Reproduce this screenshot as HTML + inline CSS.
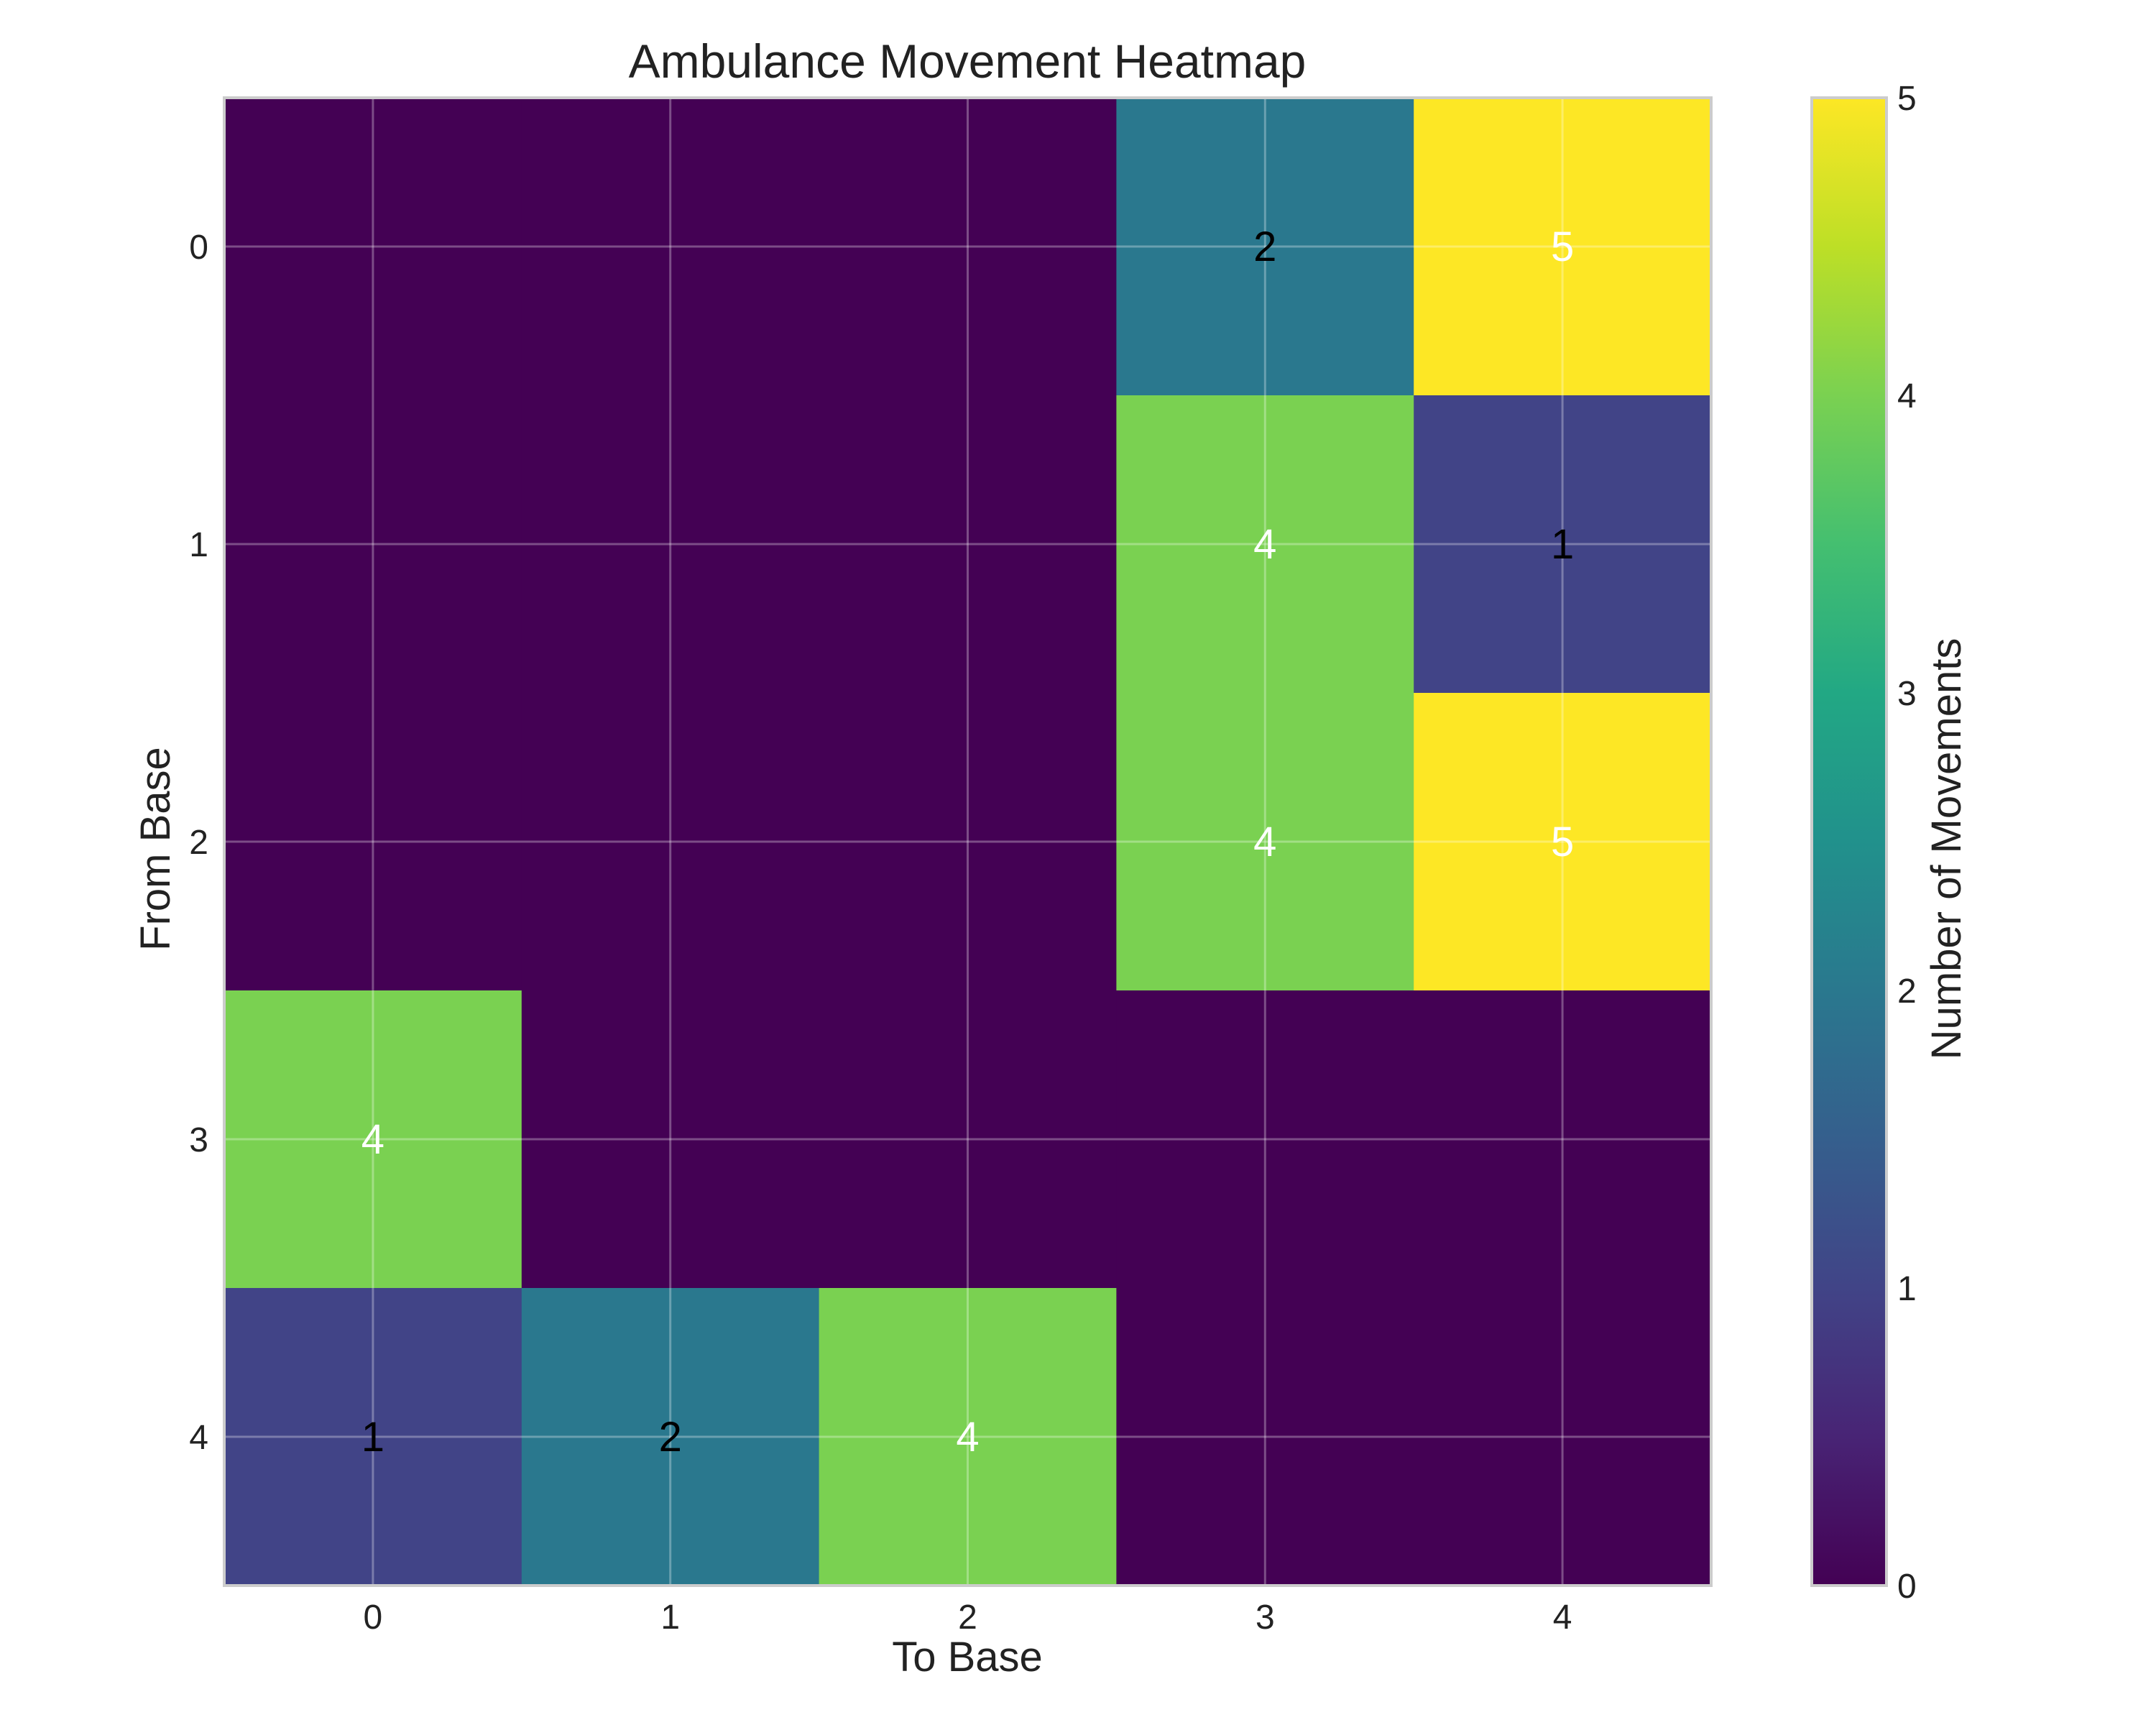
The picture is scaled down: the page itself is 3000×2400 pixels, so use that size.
<!DOCTYPE html>
<html><head><meta charset="utf-8"><style>
html,body{margin:0;padding:0;background:#fff;}
svg{display:block;font-family:"Liberation Sans",sans-serif;}
</style></head><body>
<svg id="chart" width="3000" height="2400" viewBox="0 0 3000 2400">
<defs>
<linearGradient id="vir" x1="0" y1="1" x2="0" y2="0">
<stop offset="0" stop-color="#440154"/><stop offset="0.1" stop-color="#482475"/><stop offset="0.2" stop-color="#414487"/><stop offset="0.3" stop-color="#355f8d"/><stop offset="0.4" stop-color="#2a788e"/><stop offset="0.5" stop-color="#21918c"/><stop offset="0.6" stop-color="#22a884"/><stop offset="0.7" stop-color="#44bf70"/><stop offset="0.8" stop-color="#7ad151"/><stop offset="0.9" stop-color="#bddf26"/><stop offset="1" stop-color="#fde725"/>
</linearGradient>
</defs>
<text x="1346" y="108" font-size="66" text-anchor="middle" fill="#222">Ambulance Movement Heatmap</text>
<g id="cells"></g>
<g id="grid"></g>
<g id="annot"></g>
<rect x="312" y="136" width="2069" height="2070" fill="none" stroke="#ccc" stroke-width="4"/>
<g id="xticks"></g>
<g id="yticks"></g>
<text x="1346" y="2325" font-size="58" text-anchor="middle" fill="#222">To Base</text>
<text transform="translate(236,1181) rotate(-90)" font-size="58" text-anchor="middle" fill="#222">From Base</text>
<rect x="2521" y="136" width="104" height="2070" fill="url(#vir)" stroke="#ccc" stroke-width="4"/>
<g id="cticks"></g>
<text transform="translate(2728,1181) rotate(-90)" font-size="58" text-anchor="middle" fill="#222">Number of Movements</text>
</svg>
<script>
const fromBases = [0,1,2,3,4];
const toBases = [0,1,2,3,4];
const row0 = [0,0,0,2,5];
const row1 = [0,0,0,4,1];
const row2 = [0,0,0,4,5];
const row3 = [4,0,0,0,0];
const row4 = [1,2,4,0,0];
const colorTicks = [0,1,2,3,4,5];
const matrix = [row0,row1,row2,row3,row4];
const vmax = 5;
const NS = "http://www.w3.org/2000/svg";
const X0=312, X1=2381, Y0=136, Y1=2206;
const cw=(X1-X0)/toBases.length, ch=(Y1-Y0)/fromBases.length;
const xPos = i => X0 + cw*(i+0.5);
const yPos = j => Y0 + ch*(j+0.5);
const stops=[[0,[68,1,84]],[0.1,[72,36,117]],[0.2,[65,68,135]],[0.3,[53,95,141]],[0.4,[42,120,142]],[0.5,[33,145,140]],[0.6,[34,168,132]],[0.7,[68,191,112]],[0.8,[122,209,81]],[0.9,[189,223,38]],[1,[253,231,37]]];
function vir(t){t=Math.max(0,Math.min(1,t));for(let k=1;k<stops.length;k++){if(t<=stops[k][0]){const a=stops[k-1],b=stops[k];const f=(t-a[0])/(b[0]-a[0]);return 'rgb('+a[1].map((v,i)=>Math.round(v+(b[1][i]-v)*f)).join(',')+')';}}return 'rgb(253,231,37)';}
function mk(tag,attrs,parent){const e=document.createElementNS(NS,tag);for(const k in attrs)e.setAttribute(k,attrs[k]);document.getElementById(parent).appendChild(e);return e;}
matrix.forEach((row,j)=>row.forEach((v,i)=>{
  const r=mk('rect',{x:xPos(i)-cw/2,y:yPos(j)-ch/2,width:cw+0.5,height:ch+0.5,fill:vir(v/vmax)},'cells');
  
  
  if(v>0){
    const t=mk('text',{x:xPos(i),y:yPos(j)+20,'font-size':58,'text-anchor':'middle',fill:(v/vmax>0.5?'#fff':'#000')},'annot');
    t.textContent=v;
    
    
  }
}));
toBases.forEach((b,i)=>{
  const l=mk('line',{x1:xPos(i),x2:xPos(i),y1:Y0,y2:Y1,stroke:'rgba(255,255,255,0.3)','stroke-width':3},'grid');
  
  
  const t=mk('text',{x:xPos(i),y:2266,'font-size':48,'text-anchor':'middle',fill:'#222'},'xticks');
  t.textContent=b;
  
  
});
fromBases.forEach((b,j)=>{
  const l=mk('line',{x1:X0,x2:X1,y1:yPos(j),y2:yPos(j),stroke:'rgba(255,255,255,0.3)','stroke-width':3},'grid');
  
  
  const t=mk('text',{x:290,y:yPos(j)+17,'font-size':48,'text-anchor':'end',fill:'#222'},'yticks');
  t.textContent=b;
  
  
});
colorTicks.forEach(v=>{
  const y=Y1-(Y1-Y0)*v/vmax;
  const t=mk('text',{x:2640,y:y+17,'font-size':48,fill:'#222'},'cticks');
  t.textContent=v;
  
  
});
</script>
</body></html>
